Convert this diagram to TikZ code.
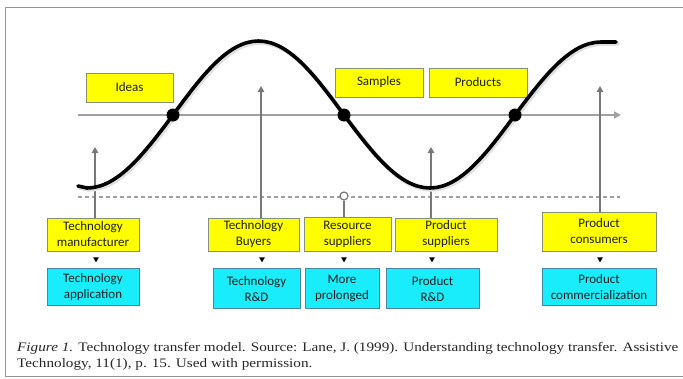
\documentclass[tikz,border=0pt]{standalone}
\usepackage{fontspec}
\setmainfont{Carlito}
\newfontfamily\capfont[FakeStretch=1.17]{Liberation Serif}
\usetikzlibrary{arrows.meta,shapes.geometric,positioning}

\definecolor{boxyellow}{RGB}{255,255,0}
\definecolor{boxcyan}{RGB}{25,236,250}
\definecolor{ybord}{RGB}{135,145,120}
\definecolor{cbord}{RGB}{70,135,170}
\definecolor{axisgray}{RGB}{160,160,160}
\definecolor{stemgray}{RGB}{120,120,120}
\definecolor{framegray}{RGB}{150,150,150}

\begin{document}
\begin{tikzpicture}[x=1pt,y=-1pt,
    box/.style={line width=0.8pt,align=center,inner sep=0pt,text=black!88,
                font=\fontsize{13}{16}\selectfont},
    ybox/.style={box,draw=ybord,fill=boxyellow},
    cbox/.style={box,draw=cbord,fill=boxcyan},
    stem/.style={draw=stemgray,line width=1.6pt,-{Triangle[length=6pt,width=6.5pt]}},
    dot/.style={circle,fill=black,minimum size=13pt,inner sep=0pt},
    ring/.style={circle,draw=stemgray,fill=white,line width=1.2pt,minimum size=8pt,inner sep=0pt},
    tri/.style={isosceles triangle,isosceles triangle apex angle=60,shape border rotate=-90,
                fill=black,minimum size=5pt,inner sep=0pt}]

  \useasboundingbox (0,0) rectangle (683,378);
  \draw[framegray,line width=1.2pt] (700,7.5) -- (5.5,7.5) -- (5.5,376.5) -- (700,376.5);

  % phases above the axis
  \node[ybox,minimum width=87pt,minimum height=29pt] (ideas)   at (129.5,87.5) {Ideas};
  \node[ybox,minimum width=88pt,minimum height=29pt] (samples) at (379,82.5)   {Samples};
  \node[ybox,minimum width=98pt,minimum height=29pt] (prods)   at (478,82.5)   {Products};

  % actors and their activities
  \node[ybox,minimum width=92pt,minimum height=33pt]  (man)  at (93,234.5)  {Technology\\manufacturer};
  \node[ybox,minimum width=91pt,minimum height=33pt]  (buy)  at (253.5,234.5) {Technology\\Buyers};
  \node[ybox,minimum width=87pt,minimum height=34pt]  (res)  at (347.5,234) {Resource\\suppliers};
  \node[ybox,minimum width=102pt,minimum height=33pt] (psup) at (446,234.5) {Product\\suppliers};
  \node[ybox,minimum width=114pt,minimum height=39pt] (cons) at (599,231.5) {Product\\consumers};

  \node[cbox,minimum width=92pt,minimum height=37pt]  (app)  [below=17pt of man] {Technology\\application};
  \node[cbox,minimum width=87pt,minimum height=40pt]  (trd)  [below=17pt of buy,xshift=3pt] {Technology\\R\&D};
  \node[cbox,minimum width=74pt,minimum height=40pt]  (more) [below=17pt of res,xshift=-5.5pt] {More\\prolonged};
  \node[cbox,minimum width=93pt,minimum height=40pt]  (prd)  [below=17pt of psup,xshift=-13.5pt] {Product\\R\&D};
  \node[cbox,minimum width=114pt,minimum height=37pt] (comm) [below=17pt of cons] {Product\\commercialization};

  \node[tri] (t1) at (96,259) {};
  \node[tri] (t2) at (262,259) {};
  \node[tri] (t3) at (344,259) {};
  \node[tri] (t4) at (432,259) {};
  \node[tri] (t5) at (600,259) {};

  % axis and base line
  \coordinate (ax0) at (78,115);
  \coordinate (ax1) at (621,115);
  \coordinate (dl0) at (78,197);
  \coordinate (dl1) at (620,197);
  \draw[axisgray,line width=2pt,-{Triangle[length=7pt,width=7pt]}] (ax0) -- (ax1);
  \draw[axisgray,line width=1.2pt,dash pattern=on 4pt off 3pt] (dl0) -- (dl1);

  \coordinate (u1) at (95,147);
  \coordinate (u2) at (261,86);
  \coordinate (u3) at (431,147);
  \coordinate (u4) at (600,86);
  \node[ring] (rg) at (344,196) {};
  \draw[stem] (man.north -| u1) -- (u1);
  \draw[stem] (buy.north -| u2) -- (u2);
  \draw[stem] (psup.north -| u3) -- (u3);
  \draw[stem] (cons.north -| u4) -- (u4);
  \draw[stemgray,line width=1.6pt] (res.north -| rg) -- (rg.south);

  % the wave
  \draw[black!12,line width=4.5pt,line cap=round,xshift=1.5pt,yshift=-1.5pt]
    (78,186) -- (87,188) cos (173,115) sin (258.5,41) cos (344,115)
    sin (430,188) cos (515,115) sin (601,42) -- (616,42);
  \draw[black,line width=3.6pt,line cap=round]
    (78,186) -- (87,188) cos (173,115) sin (258.5,41) cos (344,115)
    sin (430,188) cos (515,115) sin (601,42) -- (616,42);
  \node[dot] (c1) at (173,115) {};
  \node[dot] (c2) at (344,115) {};
  \node[dot] (c3) at (515,115) {};

  \node[anchor=north west,align=left,inner sep=0pt,text=black!85,
        font=\capfont\fontsize{13}{16}\selectfont] (cap) at (17,342)
    {\textit{Figure 1.} Technology transfer model. Source: Lane, J. (1999). Understanding technology transfer. Assistive\\
     Technology, 11(1), p. 15. Used with permission.};
\end{tikzpicture}
\end{document}
